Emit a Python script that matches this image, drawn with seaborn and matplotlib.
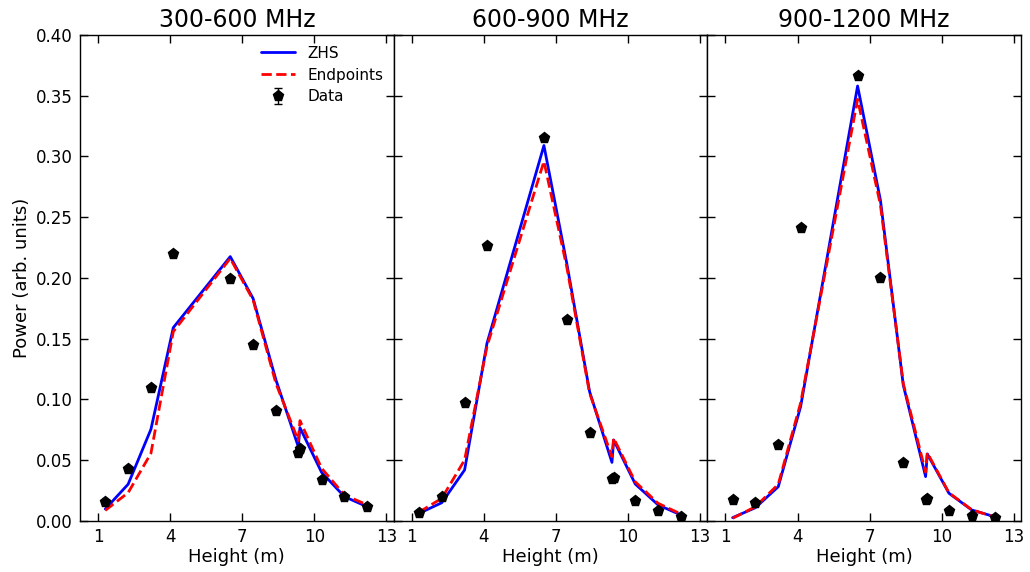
import matplotlib
matplotlib.use("Agg")
import matplotlib.pyplot as plt
import numpy as np
import pandas as pd
import seaborn as sns

# Antenna heights (m) shared by the model curves and the measurements
heights = [1.3, 2.25, 3.2, 4.13, 6.5, 7.45, 8.4, 9.33, 9.4, 10.3, 11.25, 12.2]

bands = ["300-600 MHz", "600-900 MHz", "900-1200 MHz"]

zhs_300 = [0.0096, 0.030, 0.0753, 0.159, 0.2175, 0.183, 0.116, 0.061, 0.0766, 0.0398, 0.0198, 0.0115]
end_300 = [0.0085, 0.023, 0.0555, 0.1557, 0.216, 0.1818, 0.113, 0.066, 0.0824, 0.0432, 0.0212, 0.013]
data_300 = [0.0152, 0.0426, 0.1096, 0.220, 0.199, 0.1445, 0.0903, 0.0555, 0.0588, 0.0338, 0.0193, 0.0115]

zhs_600 = [0.006, 0.0148, 0.0418, 0.146, 0.309, 0.212, 0.1063, 0.048, 0.0665, 0.0302, 0.013, 0.0047]
end_600 = [0.007, 0.0184, 0.050, 0.1434, 0.296, 0.209, 0.105, 0.0527, 0.068, 0.032, 0.0143, 0.0055]
data_600 = [0.0066, 0.0193, 0.0967, 0.2265, 0.3155, 0.1653, 0.0725, 0.0343, 0.0350, 0.0162, 0.008, 0.0033]

zhs_900 = [0.0025, 0.0107, 0.028, 0.094, 0.358, 0.264, 0.1118, 0.0363, 0.055, 0.0226, 0.0088, 0.0033]
end_900 = [0.002, 0.0115, 0.030, 0.097, 0.347, 0.260, 0.113, 0.040, 0.056, 0.023, 0.009, 0.003]
data_900 = [0.017, 0.0148, 0.0623, 0.241, 0.3666, 0.2002, 0.0475, 0.017, 0.0175, 0.0082, 0.0039, 0.002]

data_err = 0.0005

xticks = [1, 4, 7, 10, 13]
yticks = [0.00, 0.05, 0.10, 0.15, 0.20, 0.25, 0.30, 0.35, 0.40]

sns.set_style("white")
plt.rcParams["font.family"] = ["DejaVu Sans"]
plt.rcParams.update({
    "text.color": "black",
    "axes.labelcolor": "black",
    "xtick.color": "black",
    "ytick.color": "black",
    "axes.edgecolor": "black",
})

fig, axes = plt.subplots(1, 3, figsize=(10.3, 5.72), dpi=100, sharey=True)
fig.subplots_adjust(left=0.0777, right=0.9913, top=0.9388, bottom=0.0897, wspace=0)

series = [(zhs_300, end_300, data_300), (zhs_600, end_600, data_600), (zhs_900, end_900, data_900)]

for i, (ax, band, (zhs, endp, meas)) in enumerate(zip(axes, bands, series)):
    df = pd.DataFrame({"height": heights, "zhs": zhs, "endpoints": endp, "data": meas})
    sns.lineplot(data=df, x="height", y="zhs", ax=ax, color="blue", lw=2,
                 sort=False, estimator=None, label="ZHS")
    sns.lineplot(data=df, x="height", y="endpoints", ax=ax, color="red", lw=2,
                 sort=False, estimator=None, label="Endpoints", linestyle="--")
    ax.errorbar(df["height"], df["data"], yerr=data_err, fmt="p", color="black",
                markersize=8, capsize=3, elinewidth=1, label="Data", zorder=5)

    ax.set_xlim(0.25, 13.3)
    ax.set_ylim(0, 0.40)
    ax.set_xticks(xticks)
    ax.set_yticks(yticks)
    ax.set_title(band, fontsize=17, pad=6, color="black")
    ax.set_xlabel("Height (m)", fontsize=13, labelpad=2)
    ax.set_ylabel("")
    ax.tick_params(direction="in", length=6, width=1, top=True, right=True,
                   bottom=True, left=True, labelsize=12, color="black",
                   labelcolor="black", pad=5)
    for sp in ax.spines.values():
        sp.set_color("black")
        sp.set_linewidth(1)
    if i == 0:
        ax.set_ylabel("Power (arb. units)", fontsize=13)
        ax.yaxis.set_major_formatter(matplotlib.ticker.FormatStrFormatter("%.2f"))
        ax.legend(loc="upper right", frameon=False, fontsize=11, handlelength=2.2,
                  borderaxespad=0.3, labelspacing=0.45)
    else:
        if ax.get_legend() is not None:
            ax.get_legend().remove()
        ax.tick_params(labelleft=False)

fig.savefig("out.png", dpi=100)
